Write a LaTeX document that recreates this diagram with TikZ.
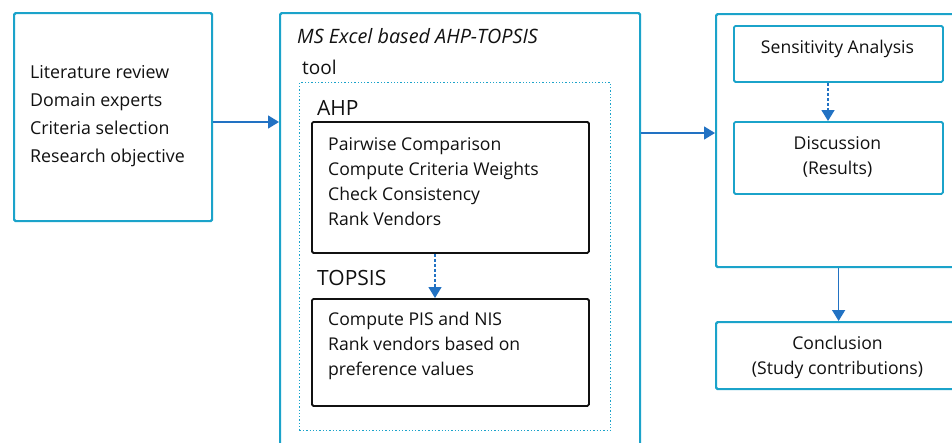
\documentclass[tikz,border=0pt]{standalone}
\usepackage{fontspec}
\setmainfont{Open Sans}
\usetikzlibrary{arrows.meta}
\definecolor{boxc}{HTML}{1BA3CA}
\definecolor{arrc}{HTML}{2272C3}
\definecolor{inkc}{HTML}{111111}
\begin{document}
\begin{tikzpicture}[x=1pt,y=-1pt,
  outerbox/.style={draw=boxc,line width=2.2pt,rectangle,rounded corners=1.5pt,inner sep=0pt,anchor=north west},
  innerbox/.style={draw=boxc,line width=1.8pt,rectangle,rounded corners=1.5pt,inner sep=0pt,anchor=north west},
  blackbox/.style={draw=inkc,line width=1.8pt,rectangle,rounded corners=1.5pt,inner sep=0pt,anchor=north west},
  dotbox/.style={draw=boxc,line width=1.3pt,dotted,rectangle,inner sep=0pt,anchor=north west},
  txt/.style={inner sep=0pt,text=inkc,font=\fontsize{17.8}{28}\selectfont,align=left},
  txtb/.style={inner sep=0pt,text=inkc,font=\fontsize{17.6}{25}\selectfont,align=left},
  txtc/.style={inner sep=0pt,text=inkc,font=\fontsize{17.6}{25}\selectfont,align=center},
  lbl/.style={inner sep=0pt,text=inkc,font=\fontsize{21}{24}\selectfont,anchor=west},
  arr/.style={draw=arrc,line width=1.5pt,-{Triangle[length=11pt,width=13pt]}},
  darr/.style={draw=arrc,line width=1.5pt,dash pattern=on 3pt off 2pt,-{Triangle[length=11pt,width=13pt]}}
]
\clip (0,0) rectangle (952,442);
\fill[white] (0,0) rectangle (952,442);

% left box
\node[outerbox,minimum width=198pt,minimum height=208pt] (lit) at (13,12) {};
\node[txt,anchor=west] (littxt) at (30,116) {Literature review\\Domain experts\\Criteria selection\\Research objective};

% middle box
\node[outerbox,minimum width=360pt,minimum height=460pt] (mid) at (279,12) {};
\node[inner sep=0pt,text=inkc,font=\fontsize{19.8}{22}\selectfont\itshape,anchor=west] (title) at (297,36) {MS Excel based AHP-TOPSIS};
\node[inner sep=0pt,text=inkc,font=\fontsize{19}{22}\selectfont,anchor=west] (tool) at (302,67) {tool};
\node[dotbox,minimum width=311pt,minimum height=348pt] (dots) at (299,82) {};

\node[lbl] (ahplbl) at (317,108) {AHP};
\node[blackbox,minimum width=277pt,minimum height=131pt] (ahp) at (311,121) {};
\node[txtb,anchor=west] (ahptxt) at (328,182) {Pairwise Comparison\\Compute Criteria Weights\\Check Consistency\\Rank Vendors};

\node[lbl] (toplbl) at (317,278) {TOPSIS};
\node[blackbox,minimum width=277pt,minimum height=107pt] (top) at (311,298) {};
\node[txtb,anchor=west] (toptxt) at (328,346) {Compute PIS and NIS\\Rank vendors based on\\preference values};

% right boxes
\node[outerbox,minimum width=245pt,minimum height=253pt] (res) at (715,13) {};
\node[innerbox,minimum width=209pt,minimum height=56pt] (sens) at (733,25) {};
\node[txtc] (senstxt) at (837.5,49) {Sensitivity Analysis};
\node[innerbox,minimum width=209pt,minimum height=72pt] (disc) at (733,121) {};
\node[txtc] (disctxt) at (837.5,157) {Discussion\\(Results)};
\node[outerbox,minimum width=245pt,minimum height=67pt] (conc) at (715,321) {};
\node[txtc] (conctxt) at (837.5,357) {Conclusion\\(Study contributions)};

% connectors
\coordinate (y1) at (0,122);
\coordinate (y2) at (0,133);
\coordinate (x1) at (435,0);
\coordinate (x2) at (828,0);
\draw[arr] (lit.east|-y1) -- (mid.west|-y1);
\draw[arr] (mid.east|-y2) -- (res.west|-y2);
\draw[arr] (res.south) -- (conc.north);
\draw[darr] (ahp.south-|x1) -- (top.north-|x1);
\draw[darr] (sens.south-|x2) -- (disc.north-|x2);
\end{tikzpicture}
\end{document}
